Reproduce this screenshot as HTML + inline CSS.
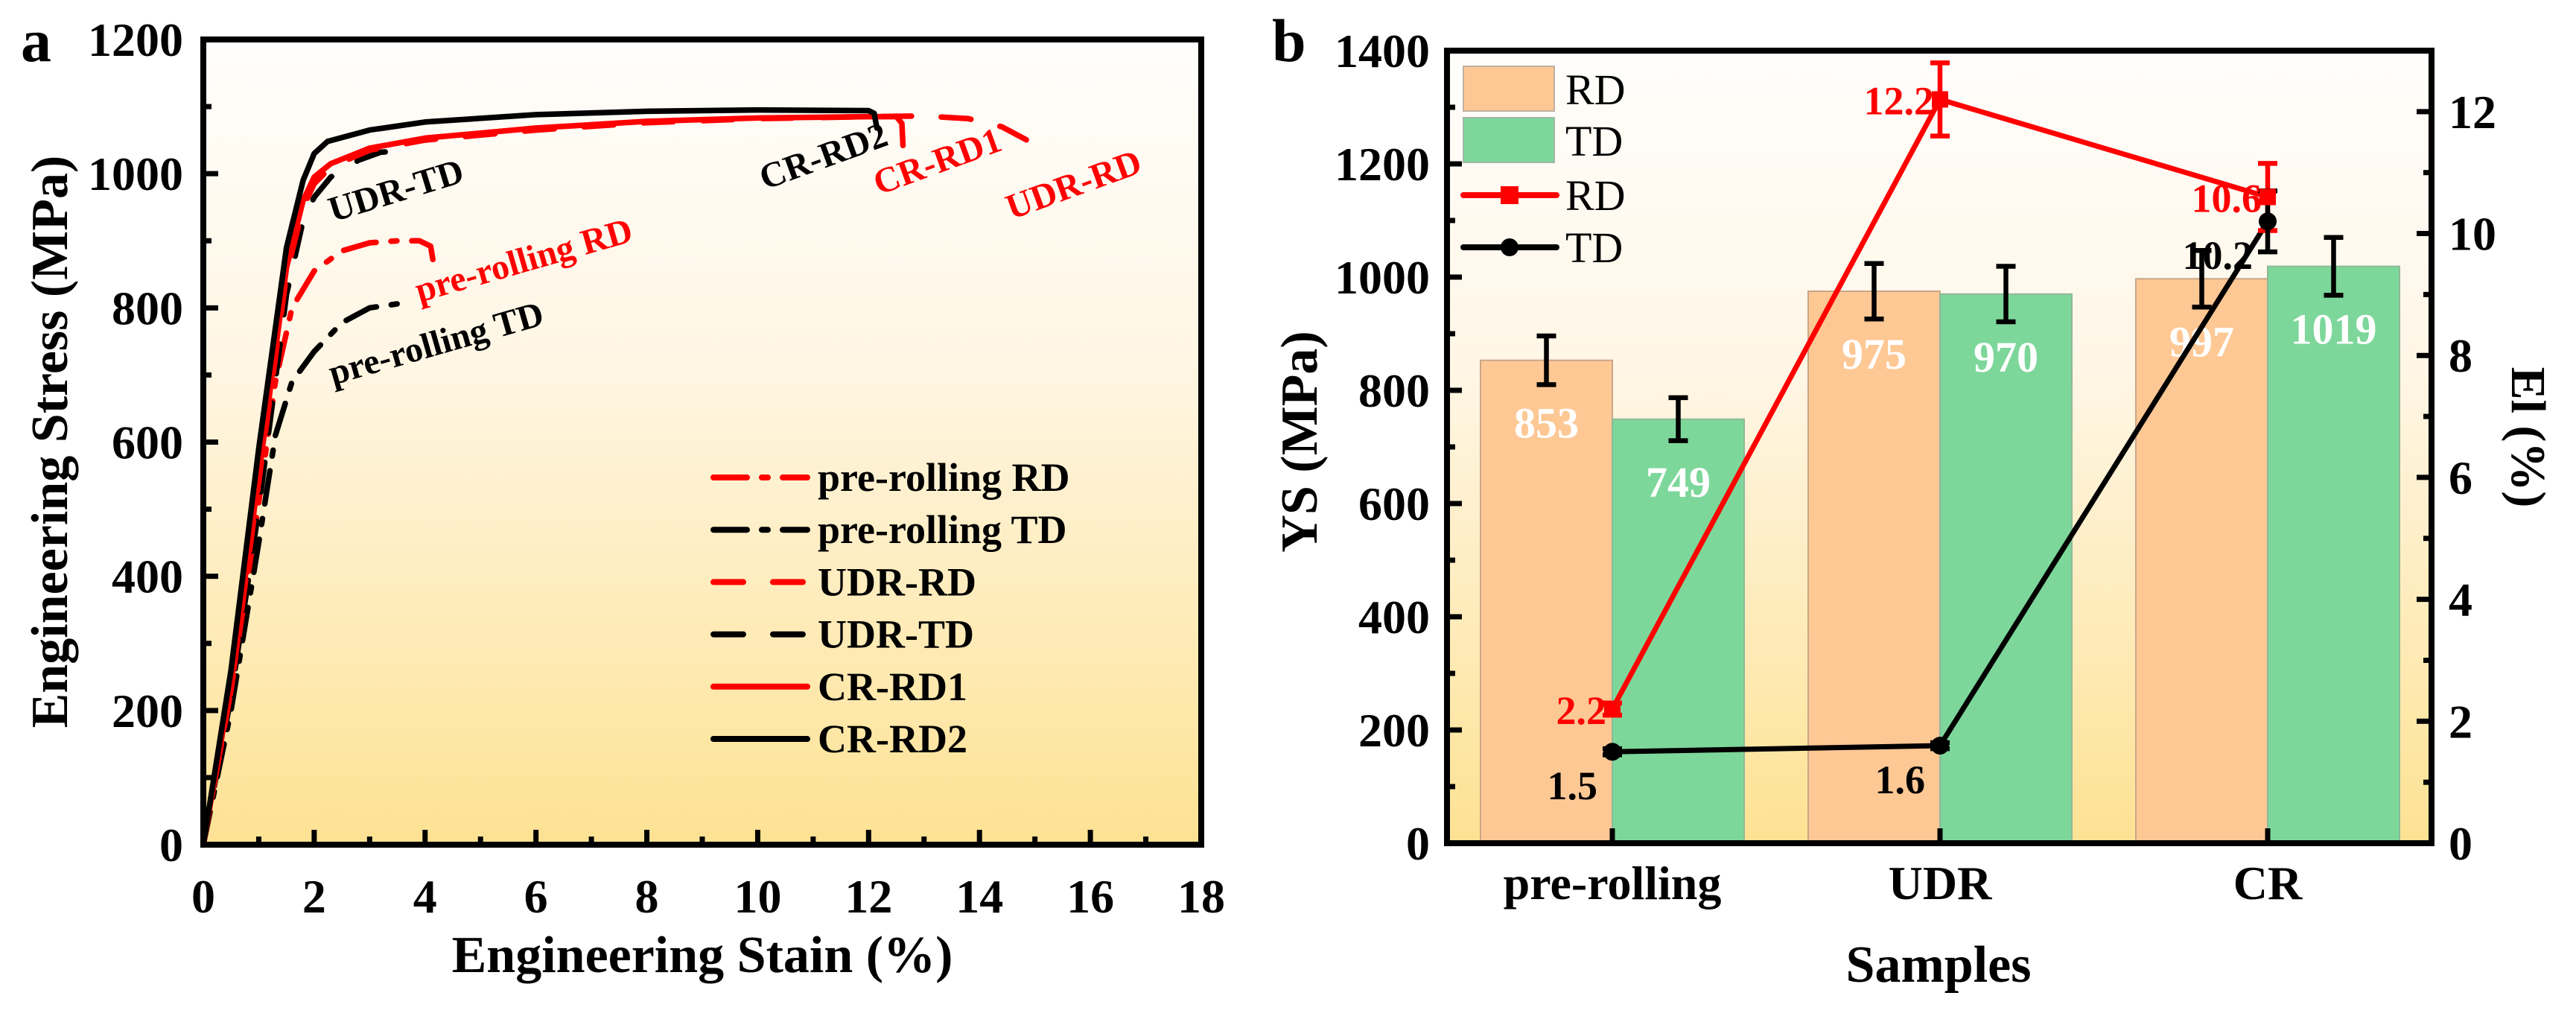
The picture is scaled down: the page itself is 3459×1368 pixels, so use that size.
<!DOCTYPE html>
<html><head><meta charset="utf-8"><style>
html,body{margin:0;padding:0;background:#fff;}
svg{display:block;font-family:"Liberation Serif",serif;font-weight:bold;}
</style></head><body>
<svg id="fig" width="3459" height="1368" viewBox="0 0 3459 1368" xmlns="http://www.w3.org/2000/svg">
<defs>
<linearGradient id="bgA" x1="0" y1="0" x2="0" y2="1"><stop offset="0" stop-color="#fffefc"/><stop offset="0.4" stop-color="#fff6e4"/><stop offset="1" stop-color="#fde293"/></linearGradient>
<linearGradient id="bgB" x1="0" y1="0" x2="0" y2="1"><stop offset="0" stop-color="#fffefc"/><stop offset="0.4" stop-color="#fff6e6"/><stop offset="1" stop-color="#fde293"/></linearGradient>
</defs>
<g id="chartA"></g>
<g id="chartB"></g>
</svg>
<script>
// ---------- Chart A data ----------
const xTicksA = [0,2,4,6,8,10,12,14,16,18];
const yTicksA = [0,200,400,600,800,1000,1200];
const crRd2Strain = [0,0.5,1.0,1.5,1.8,2.0,2.24,3,4,6,8,10,12,12.1,12.15];
const crRd2Stress = [0,260,590,890,990,1030,1048,1065,1077,1088,1093,1095,1094,1090,1068];
const crRd1Strain = [0,0.5,1.0,1.5,1.8,2.0,2.3,3,4,6,8,10,12,12.5,12.6,12.62];
const crRd1Stress = [0,240,550,860,960,995,1015,1038,1053,1068,1078,1083,1085,1085,1075,1042];
const udrRdStrain = [0,0.5,1.0,1.5,1.8,2.0,2.3,3,4,6,8,10,12,13,13.8,14.4,14.9,15.2];
const udrRdStress = [0,230,540,850,950,985,1010,1035,1050,1065,1076,1082,1085,1086,1082,1070,1048,1033];
const udrTdStrain = [0,0.5,1.0,1.5,1.8,2.0,2.3,2.8,3.2,3.45,3.55];
const udrTdStress = [0,220,500,820,930,965,995,1020,1032,1033,1018];
const preRdStrain = [0,0.5,1.0,1.3,1.6,2.0,2.5,3.0,3.5,3.9,4.1,4.15];
const preRdStress = [0,230,510,690,800,855,885,897,900,900,892,868];
const preTdStrain = [0,0.5,1.0,1.3,1.6,2.0,2.5,3.0,3.5];
const preTdStress = [0,200,450,610,690,735,778,800,806];

// ---------- Chart B data ----------
const categories = ['pre-rolling','UDR','CR'];
const ysRD = [853,975,997];
const ysTD = [749,970,1019];
const ysRDerr = [43,49,50];
const ysTDerr = [38,49,51];
const elRD = [2.2,12.2,10.6];
const elTD = [1.5,1.6,10.2];
const elRDerr = [0.1,0.6,0.55];
const elTDerr = [0.05,0.05,0.5];
const ysTicks = [0,200,400,600,800,1000,1200,1400];
const elTicks = [0,2,4,6,8,10,12];

const NS='http://www.w3.org/2000/svg';
function mk(parent,tag,attrs,text){const e=document.createElementNS(NS,tag);for(const k in attrs)e.setAttribute(k,attrs[k]);if(text!==undefined)e.textContent=text;parent.appendChild(e);return e;}

// ===== Chart A =====
const A=document.getElementById('chartA');
const aL=273,aR=1613,aT=53,aB=1134;
const ax=v=>aL+(v-0)/(18-0)*(aR-aL);
const ay=v=>aB-(v-0)/(1200-0)*(aB-aT);
let e;
e=mk(A,'rect',{x:aL,y:aT,width:aR-aL,height:aB-aT,fill:'url(#bgA)'});


xTicksA.forEach((t,i)=>{
  e=mk(A,'line',{x1:ax(t),x2:ax(t),y1:aB,y2:aB-20,stroke:'#000','stroke-width':7});
  
  
  if(i<xTicksA.length-1){e=mk(A,'line',{x1:ax(t+1),x2:ax(t+1),y1:aB,y2:aB-11,stroke:'#000','stroke-width':7});
  
  }
  e=mk(A,'text',{x:ax(t),y:1225,'text-anchor':'middle','font-size':64},String(t));
  
  
});
yTicksA.forEach((t,i)=>{
  e=mk(A,'line',{x1:aL,x2:aL+20,y1:ay(t),y2:ay(t),stroke:'#000','stroke-width':7});
  
  
  if(i<yTicksA.length-1){e=mk(A,'line',{x1:aL,x2:aL+11,y1:ay(t+100),y2:ay(t+100),stroke:'#000','stroke-width':7});
  
  }
  e=mk(A,'text',{x:246,y:ay(t)+22,'text-anchor':'end','font-size':64},String(t));
  
  
});
const curves=[
 {n:'curve-pre-rolling-td',x:preTdStrain,y:preTdStress,c:'#000',d:'45 20 8 20'},
 {n:'curve-pre-rolling-rd',x:preRdStrain,y:preRdStress,c:'#f00',d:'45 20 8 20'},
 {n:'curve-udr-td',x:udrTdStrain,y:udrTdStress,c:'#000',d:'40 40'},
 {n:'curve-udr-rd',x:udrRdStrain,y:udrRdStress,c:'#f00',d:'40 40'},
 {n:'curve-cr-rd1',x:crRd1Strain,y:crRd1Stress,c:'#f00',d:''},
 {n:'curve-cr-rd2',x:crRd2Strain,y:crRd2Stress,c:'#000',d:''}];
curves.forEach(cv=>{
  const pts=cv.x.map((v,i)=>ax(v).toFixed(1)+','+ay(cv.y[i]).toFixed(1)).join(' ');
  const p=mk(A,'polyline',{points:pts,fill:'none',stroke:cv.c,'stroke-width':7.5,'stroke-linejoin':'round','stroke-linecap':'round'});
  if(cv.d)p.setAttribute('stroke-dasharray',cv.d);
  
  
});
e=mk(A,'rect',{x:aL,y:aT,width:aR-aL,height:aB-aT,fill:'none',stroke:'#000','stroke-width':8});


const ann=[['UDR-TD',447,298,-17,'#000','annotation-udr-td'],['CR-RD2',1027,255,-20,'#000','annotation-cr-rd2'],['CR-RD1',1180,262,-20,'#f00','annotation-cr-rd1'],['UDR-RD',1358,295,-20,'#f00','annotation-udr-rd'],['pre-rolling RD',563,406,-16,'#f00','annotation-pre-rolling-rd'],['pre-rolling TD',447,517,-16,'#000','annotation-pre-rolling-td']];
ann.forEach(a=>{e=mk(A,'text',{x:a[1],y:a[2],fill:a[4],'font-size':48,transform:`rotate(${a[3]} ${a[1]} ${a[2]})`},a[0]);
  
  });
const legA=[['pre-rolling RD','#f00','45 20 8 20'],['pre-rolling TD','#000','45 20 8 20'],['UDR-RD','#f00','40 40'],['UDR-TD','#000','40 40'],['CR-RD1','#f00',''],['CR-RD2','#000','']];
const legG=mk(A,'g',{});


legA.forEach((l,i)=>{const y=641+i*70.2;
  const ln=mk(legG,'line',{x1:958,x2:1084,y1:y,y2:y,stroke:l[1],'stroke-width':8,'stroke-linecap':'round'});
  if(l[2])ln.setAttribute('stroke-dasharray',l[2]);
  
  
  e=mk(legG,'text',{x:1098,y:y+18,'font-size':54},l[0]);
  
  });
e=mk(A,'text',{x:943,y:1305,'text-anchor':'middle','font-size':70},'Engineering Stain (%)');


e=mk(A,'text',{x:90,y:593,'text-anchor':'middle','font-size':70,transform:'rotate(-90 90 593)'},'Engineering Stress (MPa)');


e=mk(A,'text',{x:28,y:82,'font-size':82},'a');



// ===== Chart B =====
const B=document.getElementById('chartB');
const bL=1943,bR=3265,bT=68,bB=1132;
const cx=i=>2165+i*440;
const by=v=>bB-v/1400*(bB-bT);
const ey=v=>bB-v/13*(bB-bT);
const bw=177;
e=mk(B,'rect',{x:bL,y:bT,width:bR-bL,height:bB-bT,fill:'url(#bgB)'});


categories.forEach((c,i)=>{
  e=mk(B,'rect',{x:cx(i)-bw,y:by(ysRD[i]),width:bw,height:bB-by(ysRD[i]),fill:'#fec895',stroke:'#c9a688','stroke-width':2});
  
  
  e=mk(B,'rect',{x:cx(i),y:by(ysTD[i]),width:bw,height:bB-by(ysTD[i]),fill:'#7dd79a',stroke:'#8fb898','stroke-width':2});
  
  
});
function errbar(x,v,err,scale,col,name){const g=mk(B,'g',{stroke:col,'stroke-width':6.5});
  
  
  mk(g,'line',{x1:x,x2:x,y1:scale(v-err),y2:scale(v+err)});
  mk(g,'line',{x1:x-13,x2:x+13,y1:scale(v-err),y2:scale(v-err)});
  mk(g,'line',{x1:x-13,x2:x+13,y1:scale(v+err),y2:scale(v+err)});}
categories.forEach((c,i)=>{
  errbar(cx(i)-bw/2,ysRD[i],ysRDerr[i],by,'#000','errorbar-ys-rd');
  errbar(cx(i)+bw/2,ysTD[i],ysTDerr[i],by,'#000','errorbar-ys-td');
  e=mk(B,'text',{x:cx(i)-bw/2,y:by(ysRD[i])+104,'text-anchor':'middle','font-size':58,fill:'#fff'},String(ysRD[i]));
  
  
  e=mk(B,'text',{x:cx(i)+bw/2,y:by(ysTD[i])+104,'text-anchor':'middle','font-size':58,fill:'#fff'},String(ysTD[i]));
  
  
});
e=mk(B,'polyline',{points:elTD.map((v,i)=>cx(i)+','+ey(v)).join(' '),fill:'none',stroke:'#000','stroke-width':7});


e=mk(B,'polyline',{points:elRD.map((v,i)=>cx(i)+','+ey(v)).join(' '),fill:'none',stroke:'#f00','stroke-width':7});


categories.forEach((c,i)=>{
  errbar(cx(i),elRD[i],elRDerr[i],ey,'#f00','errorbar-el-rd');
  errbar(cx(i),elTD[i],elTDerr[i],ey,'#000','errorbar-el-td');
  e=mk(B,'rect',{x:cx(i)-11,y:ey(elRD[i])-11,width:22,height:22,fill:'#f00'});
  
  
  e=mk(B,'circle',{cx:cx(i),cy:ey(elTD[i]),r:12,fill:'#000'});
  
  
  e=mk(B,'text',{x:cx(i)-8,y:ey(elRD[i])+20,'text-anchor':'end','font-size':54,fill:'#f00'},elRD[i].toFixed(1));
  
  
  e=mk(B,'text',{x:cx(i)-20,y:ey(elTD[i])+64,'text-anchor':'end','font-size':54,fill:'#000'},elTD[i].toFixed(1));
  
  
});
ysTicks.forEach((t,i)=>{
  e=mk(B,'line',{x1:bL,x2:bL+20,y1:by(t),y2:by(t),stroke:'#000','stroke-width':7});
  
  
  if(i<ysTicks.length-1){e=mk(B,'line',{x1:bL,x2:bL+11,y1:by(t+100),y2:by(t+100),stroke:'#000','stroke-width':7});
  
  }
  e=mk(B,'text',{x:1920,y:by(t)+22,'text-anchor':'end','font-size':64},String(t));
  
  
});
elTicks.forEach((t,i)=>{
  e=mk(B,'line',{x1:bR,x2:bR-20,y1:ey(t),y2:ey(t),stroke:'#000','stroke-width':7});
  
  
  e=mk(B,'line',{x1:bR,x2:bR-11,y1:ey(t+1),y2:ey(t+1),stroke:'#000','stroke-width':7});
  
  
  e=mk(B,'text',{x:3288,y:ey(t)+22,'font-size':64},String(t));
  
  
});
categories.forEach((c,i)=>{
  e=mk(B,'line',{x1:cx(i),x2:cx(i),y1:bB,y2:bB-20,stroke:'#000','stroke-width':7});
  
  
  e=mk(B,'text',{x:cx(i),y:1207,'text-anchor':'middle','font-size':64},c);
  
  
});
e=mk(B,'rect',{x:bL,y:bT,width:bR-bL,height:bB-bT,fill:'none',stroke:'#000','stroke-width':8});


const lg=mk(B,'g',{'font-weight':'normal'});


e=mk(lg,'rect',{x:1965,y:89,width:122,height:60,fill:'#fec895',stroke:'#c0b0a0','stroke-width':2});


e=mk(lg,'rect',{x:1965,y:158,width:122,height:60,fill:'#7dd79a',stroke:'#a0b8a5','stroke-width':2});


e=mk(lg,'line',{x1:1965,x2:2090,y1:262,y2:262,stroke:'#f00','stroke-width':8,'stroke-linecap':'round'});


e=mk(lg,'rect',{x:2015,y:250,width:24,height:24,fill:'#f00'});


e=mk(lg,'line',{x1:1965,x2:2090,y1:332,y2:332,stroke:'#000','stroke-width':8,'stroke-linecap':'round'});


e=mk(lg,'circle',{cx:2027,cy:332,r:12,fill:'#000'});


[['RD',140],['TD',209],['RD',282],['TD',352]].forEach(t=>{e=mk(lg,'text',{x:2102,y:t[1],'font-size':58,'font-weight':'normal'},t[0]);
  
  });
e=mk(B,'text',{x:2603,y:1318,'text-anchor':'middle','font-size':70},'Samples');


e=mk(B,'text',{x:1768,y:593,'text-anchor':'middle','font-size':70,transform:'rotate(-90 1768 593)'},'YS (MPa)');


e=mk(B,'text',{x:3373,y:587,'text-anchor':'middle','font-size':66,transform:'rotate(90 3373 587)'},'El (%)');


e=mk(B,'text',{x:1708,y:82,'font-size':82},'b');


</script>
</body></html>
